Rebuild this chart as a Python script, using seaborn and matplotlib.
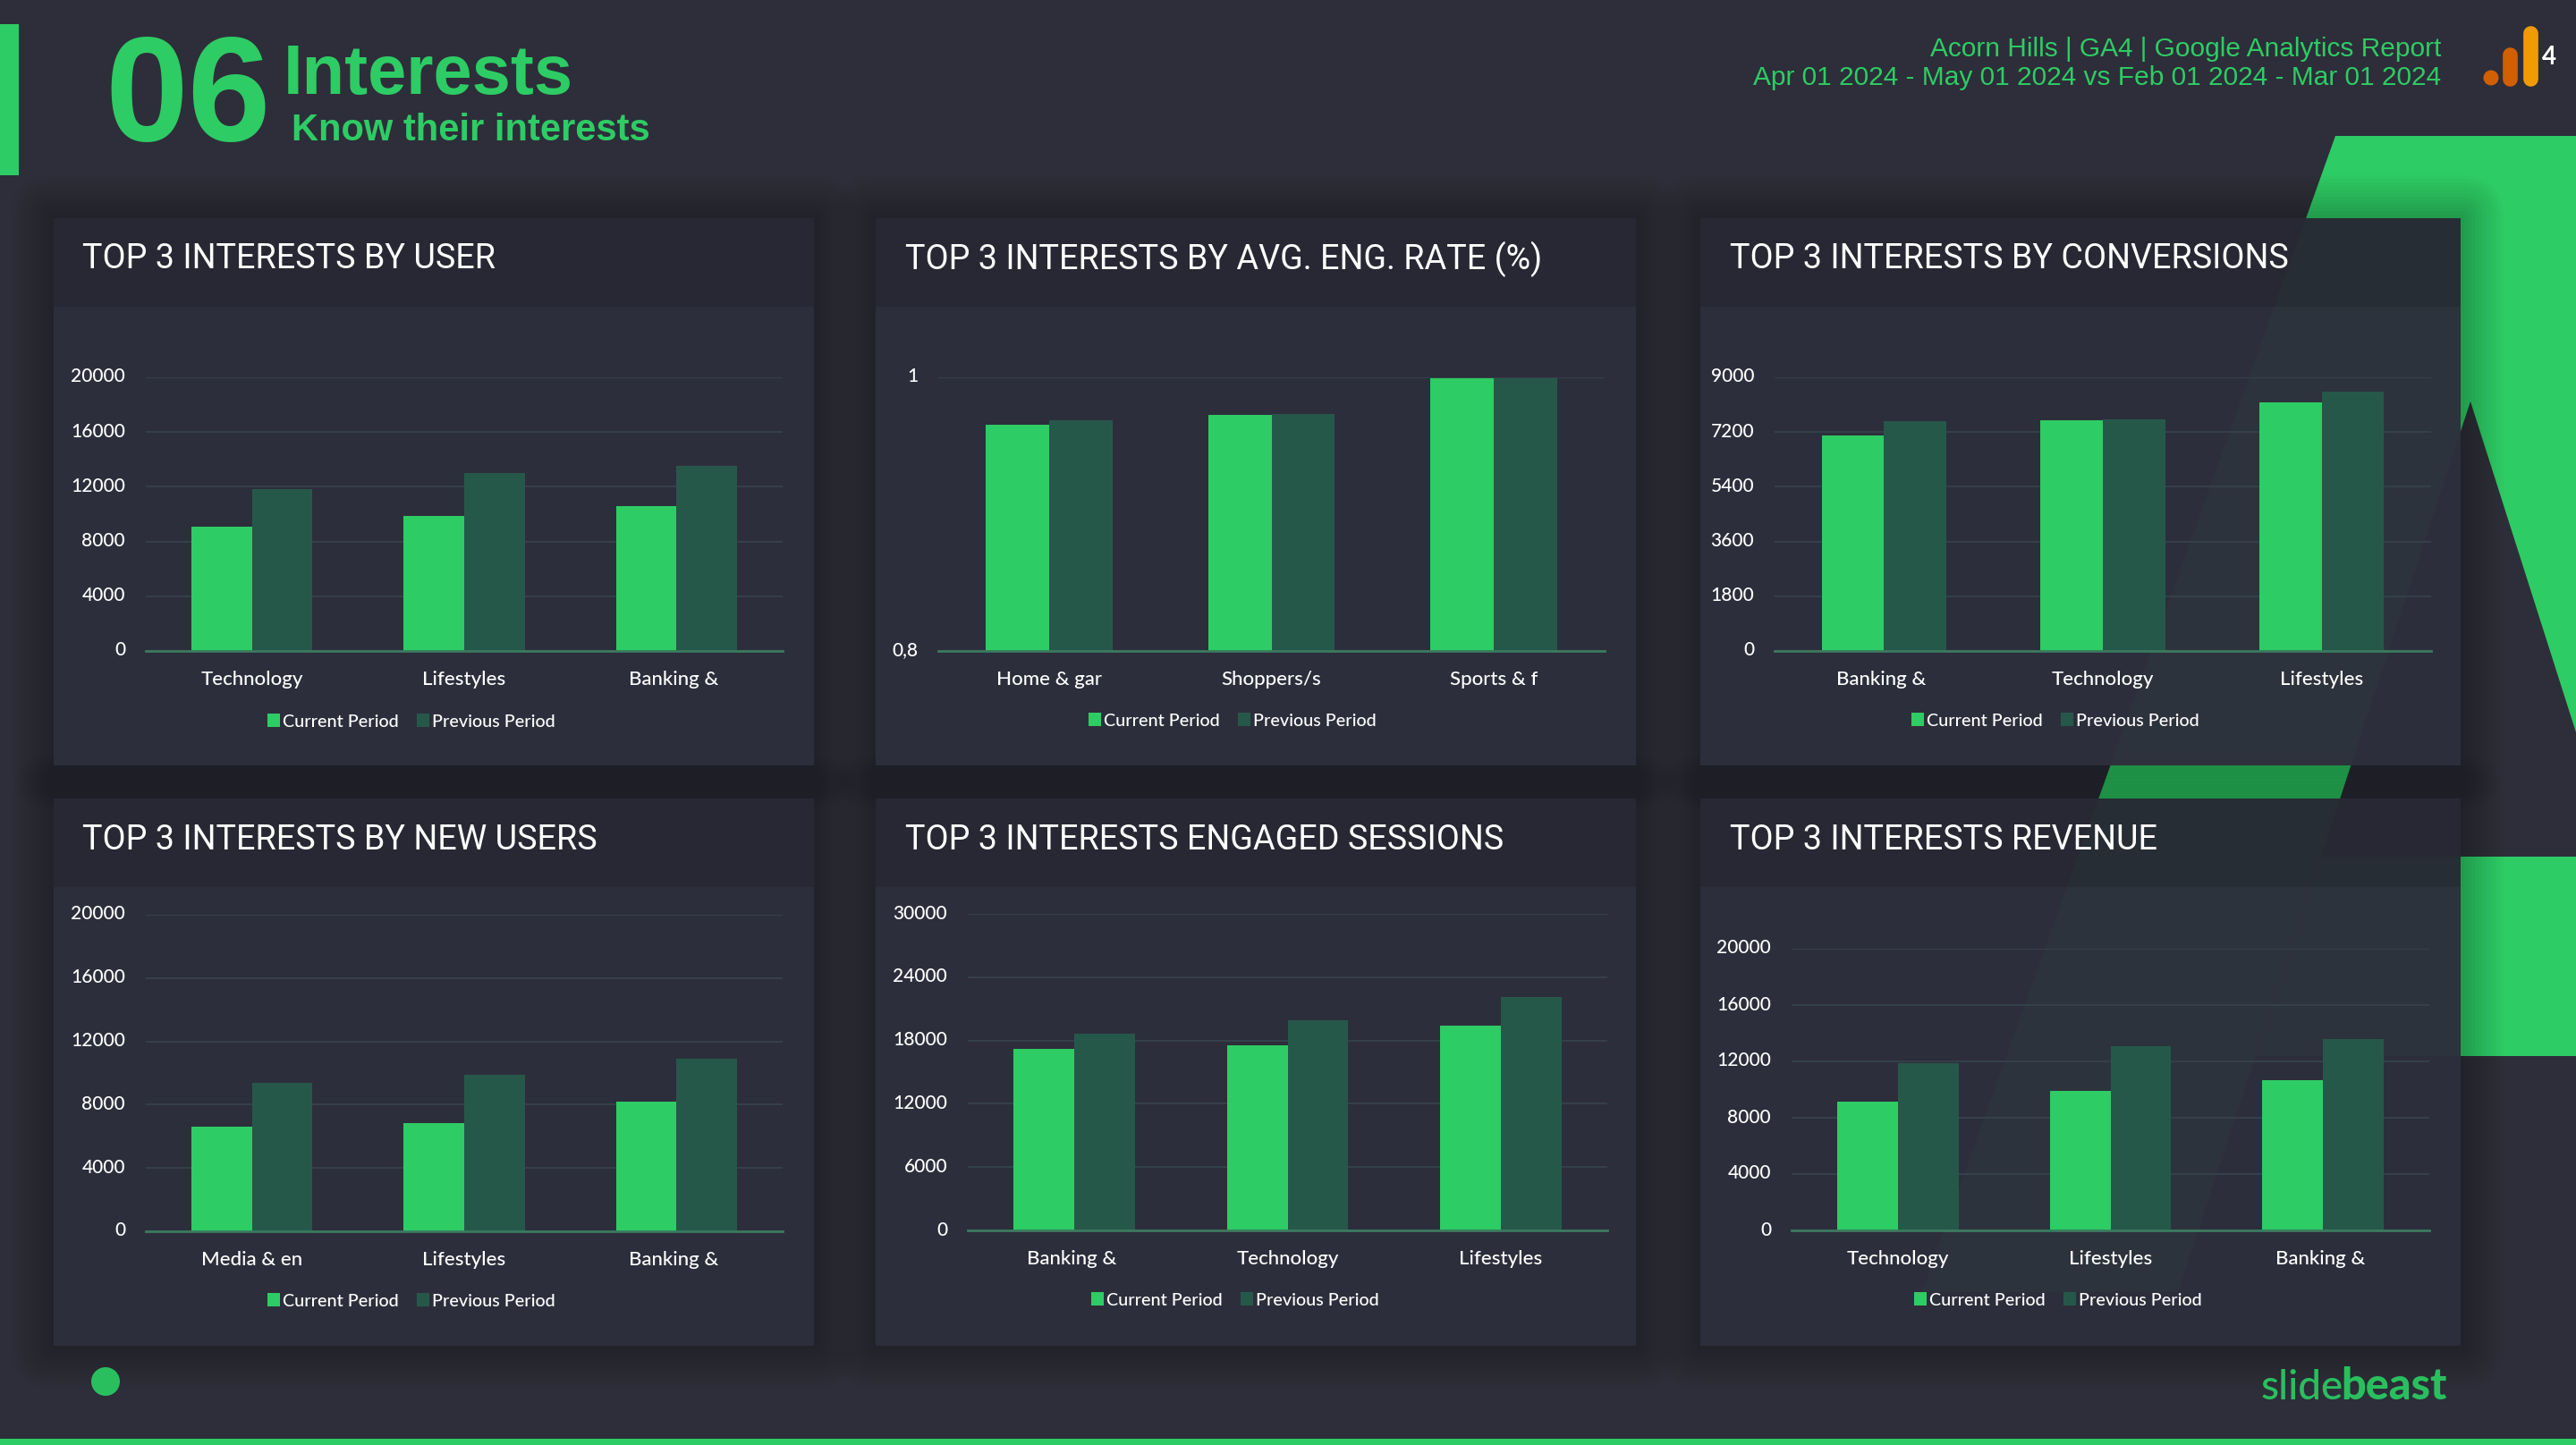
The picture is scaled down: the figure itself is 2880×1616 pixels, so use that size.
import pandas as pd
import matplotlib.pyplot as plt
import seaborn as sns
from matplotlib.patches import Circle, FancyBboxPatch, Polygon, Rectangle
from matplotlib.transforms import ScaledTranslation

# Data
periods = ['Current Period', 'Previous Period']

cats_users = ['Technology', 'Lifestyles', 'Banking & ']
current_users = [9080, 9870, 10590]
previous_users = [11830, 13010, 13540]
ticks_users = [0, 4000, 8000, 12000, 16000, 20000]

cats_eng = ['Home & gar', 'Shoppers/s', 'Sports & f']
current_eng = [0.9655, 0.9727, 0.9996]
previous_eng = [0.9688, 0.9734, 0.9996]
ticks_eng = [0.8, 1]
labels_eng = ['0,8', '1']

cats_conv = ['Banking & ', 'Technology', 'Lifestyles']
current_conv = [7096, 7597, 8186]
previous_conv = [7567, 7626, 8539]
ticks_conv = [0, 1800, 3600, 5400, 7200, 9000]

cats_new = ['Media & en', 'Lifestyles', 'Banking & ']
current_new = [6600, 6830, 8190]
previous_new = [9380, 9890, 10910]
ticks_new = [0, 4000, 8000, 12000, 16000, 20000]

cats_sessions = ['Banking & ', 'Technology', 'Lifestyles']
current_sessions = [17175, 17514, 19379]
previous_sessions = [18616, 19887, 22090]
ticks_sessions = [0, 6000, 12000, 18000, 24000, 30000]

cats_revenue = ['Technology', 'Lifestyles', 'Banking & ']
current_revenue = [9130, 9890, 10660]
previous_revenue = [11860, 13070, 13580]
ticks_revenue = [0, 4000, 8000, 12000, 16000, 20000]

W, H = 2880, 1616
BG = '#2d2e3a'
HEADER = '#282934'
BODY = '#2e2f3c'
GREEN = '#2ecc64'
DARK = '#26584a'
GRID = '#34404a'
BASE = '#3b7a60'

sns.set_theme(style='dark')
plt.rcParams['font.family'] = ['Lato', 'DejaVu Sans']

fig = plt.figure(figsize=(W / 100, H / 100), dpi=100, facecolor=BG)

# Full-slide layer in pixel coordinates for the decoration
bg = fig.add_axes([0, 0, 1, 1], zorder=0)
bg.set_xlim(0, W)
bg.set_ylim(H, 0)
bg.axis('off')

# Big green shape behind the panels
bg.add_patch(Polygon([(2611, 152), (2880, 152), (2880, 819), (2762, 449),
                      (2435, 1445), (2149, 1445)], fc=GREEN, ec='none'))
bg.add_patch(Polygon([(2595, 958), (2880, 958), (2880, 1181), (2522, 1181)],
                     fc=GREEN, ec='none'))

panel_x = [(60, 910), (979, 1829), (1901, 2751)]
panel_y = [(244, 343, 856), (893, 992, 1505)]

# Soft shadow
for x0, x1 in panel_x:
    for y0, _, y1 in panel_y:
        for k in range(1, 13):
            e = k * 4
            bg.add_patch(FancyBboxPatch((x0, y0), x1 - x0, y1 - y0,
                                        boxstyle=f'round,pad={e},rounding_size={e}',
                                        fc='black', ec='none', alpha=0.018))
for x0, x1 in panel_x:
    for y0, ym, y1 in panel_y:
        bg.add_patch(Rectangle((x0, y0), x1 - x0, ym - y0, fc=HEADER, ec='none', alpha=0.965))
        bg.add_patch(Rectangle((x0, ym), x1 - x0, y1 - ym, fc=BODY, ec='none', alpha=0.965))

# Slide furniture
bg.add_patch(Rectangle((0, 27), 21, 169, fc=GREEN, ec='none'))
bg.add_patch(Rectangle((0, 1609), W, 7, fc=GREEN, ec='none'))
bg.add_patch(Circle((118, 1545), 16, fc='#2abf5e', ec='none'))

head = ['Liberation Sans', 'DejaVu Sans']
bg.text(117, 157, '06', color=GREEN, fontsize=120, fontweight='bold', family=head)
bg.text(317, 105, 'Interests', color=GREEN, fontsize=56, fontweight='bold', family=head)
bg.text(326, 157, 'Know their interests', color=GREEN, fontsize=30, fontweight='bold', family=head)
bg.text(2729, 63, 'Acorn Hills | GA4 | Google Analytics Report', color=GREEN, fontsize=21.5,
        ha='right', family=head)
bg.text(2729, 95, 'Apr 01 2024 - May 01 2024 vs Feb 01 2024 - Mar 01 2024', color=GREEN,
        fontsize=21.5, ha='right', family=head)

# GA4 mark
bg.add_patch(Circle((2785, 87), 8.5, fc='#d06000', ec='none'))
bg.plot([2806, 2806], [61, 88], color='#d06000', lw=12, solid_capstyle='round')
bg.plot([2829, 2829], [37, 88], color='#f09c00', lw=12, solid_capstyle='round')
bg.text(2850, 64, '4', color='white', fontsize=20, fontweight='bold', ha='center', va='center')

# slidebeast wordmark
bg.text(2528, 1565, 'slide', color='#2abf5e', fontsize=33, fontweight='medium',
        family=['Lato', 'DejaVu Sans'])
bg.text(2617, 1565, 'beast', color='#2abf5e', fontsize=35, fontweight='black',
        family=['Lato', 'DejaVu Sans'])


def plot_panel(title, title_xy, cats, current, previous, ticks, labels, box, legend_xy):
    """One grouped bar panel, box is left, top, right, bottom in slide pixels."""
    bg.text(title_xy[0], title_xy[1], title, color='white', fontsize=27.2, va='center',
            family=['Roboto', 'DejaVu Sans'])

    left, top, right, bottom = box
    ax = fig.add_axes([left / W, 1 - bottom / H, (right - left) / W, (bottom - top) / H], zorder=1)
    ax.patch.set_alpha(0)

    df = pd.DataFrame({
        'cat': cats * 2,
        'value': current + previous,
        'period': [periods[0]] * 3 + [periods[1]] * 3,
    })
    sns.barplot(data=df, x='cat', y='value', hue='period', hue_order=periods,
                palette=[GREEN, DARK], width=0.57, gap=0, saturation=1, linewidth=0, ax=ax)

    ax.set_xlim(-0.5, 2.5)
    ax.set_ylim(ticks[0], ticks[-1])
    ax.set_yticks(ticks)
    ax.set_yticklabels(labels if labels else [str(t) for t in ticks])
    ax.set_xlabel('')
    ax.set_ylabel('')
    ax.yaxis.grid(True, color=GRID, lw=1.5)
    ax.xaxis.grid(False)
    ax.set_axisbelow(True)
    sns.despine(ax=ax, left=True)
    ax.spines['bottom'].set_color(BASE)
    ax.spines['bottom'].set_linewidth(2)
    ax.tick_params(axis='y', length=0, pad=16.5, labelsize=15, labelcolor='white')
    ax.tick_params(axis='x', length=0, pad=15.5, labelsize=16, labelcolor='white')

    # tick numbers sit a little above their grid lines in the original
    nudge = ScaledTranslation(0, 2.5 / 100, fig.dpi_scale_trans)
    for lab in ax.get_yticklabels():
        lab.set_transform(lab.get_transform() + nudge)
        lab.set_fontweight('medium')
    for lab in ax.get_xticklabels():
        lab.set_fontweight('medium')

    sns.move_legend(ax, 'center', bbox_to_anchor=(legend_xy[0] / W, 1 - legend_xy[1] / H),
                    bbox_transform=fig.transFigure, ncol=2, title=None, frameon=False,
                    fontsize=14.2, handlelength=0.7, handleheight=0.75, handletextpad=0.15,
                    columnspacing=1.05, labelcolor='white', borderpad=0, borderaxespad=0)
    for h in ax.get_legend().legend_handles:
        h.set_linewidth(0)
    for t in ax.get_legend().get_texts():
        t.set_fontweight('medium')


plot_panel('TOP 3 INTERESTS BY USER', (92, 290), cats_users, current_users, previous_users,
           ticks_users, None, (163, 422, 875, 728), (460, 807))
plot_panel('TOP 3 INTERESTS BY AVG. ENG. RATE (%)', (1012, 290), cats_eng, current_eng, previous_eng,
           ticks_eng, labels_eng, (1049, 422, 1794, 728), (1378, 806))
plot_panel('TOP 3 INTERESTS BY CONVERSIONS', (1934, 290), cats_conv, current_conv, previous_conv,
           ticks_conv, None, (1984, 422, 2718, 728), (2298, 806))
plot_panel('TOP 3 INTERESTS BY NEW USERS', (92, 939), cats_new, current_new, previous_new,
           ticks_new, None, (163, 1023, 875, 1377), (460, 1455))
plot_panel('TOP 3 INTERESTS ENGAGED SESSIONS', (1012, 939), cats_sessions, current_sessions, previous_sessions,
           ticks_sessions, None, (1082, 1022, 1797, 1376), (1381, 1454))
plot_panel('TOP 3 INTERESTS REVENUE', (1934, 939), cats_revenue, current_revenue, previous_revenue,
           ticks_revenue, None, (2003, 1061, 2716, 1376), (2301, 1454))

fig.savefig('out.png', dpi=100, facecolor=BG)
